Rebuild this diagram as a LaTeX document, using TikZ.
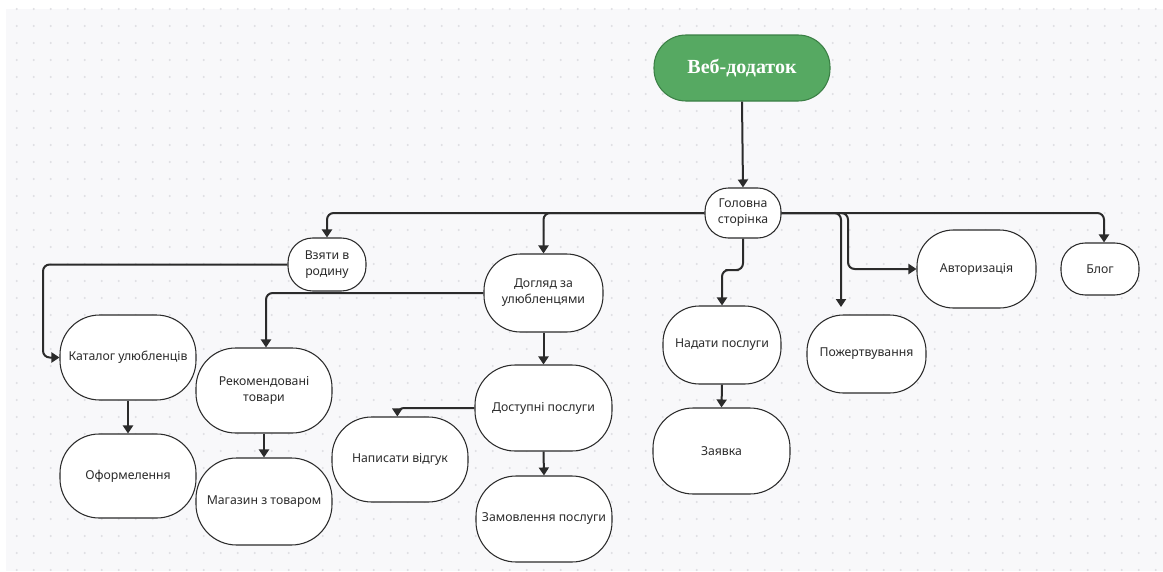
\documentclass[tikz,border=0pt]{standalone}
\usepackage{fontspec}
\setmainfont{Noto Sans}
\newfontfamily\titlefont{Liberation Serif}
\usetikzlibrary{arrows.meta}

\definecolor{canvas}{HTML}{F8F8FA}
\definecolor{gridDot}{HTML}{DEDEE2}
\definecolor{ink}{HTML}{2B2B2B}
\definecolor{leaf}{HTML}{56A962}
\definecolor{leafEdge}{HTML}{3B7F45}

\begin{document}
\begin{tikzpicture}[x=0.75pt,y=-0.75pt,
  box/.style 2 args={draw=ink, line width=0.8pt, fill=white,
    minimum width=#1*0.75pt, minimum height=#2*0.75pt,
    rounded corners=#2*0.35pt, align=center, inner sep=2pt,
    font=\fontsize{9.2}{12}\selectfont, text=ink},
  link/.style={draw=ink, line width=1.5pt, rounded corners=5pt,
    -{Triangle[width=7.5pt,length=6pt]}}]

% canvas with dotted grid
\useasboundingbox (0,0) rectangle (1163,571);
\fill[white] (0,0) rectangle (1163,571);
\fill[canvas] (6,9) rectangle (1163,571);
\foreach \i in {0,...,67}
  \foreach \j in {0,...,33}
    \fill[gridDot] (16.7+17*\i, 9+17*\j) circle (0.85pt);

% nodes
\node[box={176}{66}, fill=leaf, draw=leafEdge, text=white, rounded corners=24pt,
  font=\titlefont\bfseries\fontsize{15}{18}\selectfont] (web) at (742,68) {Веб-додаток};
\node[box={76}{50}]   (home)    at (743,213)   {Головна\\сторінка};
\node[box={78}{53}]   (take)    at (327,264.5) {Взяти в\\родину};
\node[box={119}{78}]  (care)    at (543.5,293) {Догляд за\\улюбленцями};
\node[box={136}{85}]  (cat)     at (128,357.5) {Каталог улюбленців};
\node[box={136}{85}]  (rec)     at (264,390.5) {Рекомендовані\\товари};
\node[box={136}{84}]  (form)    at (128,476)   {Оформелення};
\node[box={136}{87}]  (shop)    at (264,501.5) {Магазин з товаром};
\node[box={136}{85}]  (review)  at (400,459.5) {Написати відгук};
\node[box={137}{86}]  (avail)   at (543.5,408) {Доступні послуги};
\node[box={136}{86}]  (order)   at (544,519)   {Замовлення послуги};
\node[box={118}{78}]  (provide) at (722,345)   {Надати послуги};
\node[box={137}{86}]  (request) at (721.5,451) {Заявка};
\node[box={119}{78}]  (donate)  at (866.5,354) {Пожертвування};
\node[box={119}{78}]  (auth)    at (976.5,269) {Авторизація};
\node[box={78}{52}]   (blog)    at (1100,269)  {Блог};

% bend points and free ends
\coordinate (tl) at (43,300);
\coordinate (hp) at (732,270);
\coordinate (dn) at (841,307);
\coordinate (ab) at (848,269);

% connectors
\draw[link] (web.south) -- (home.north);
\draw[link] (home.west) -| (take.north);
\draw[link] (home.west) -| (care.north);
\draw[link] (home.south) |- (hp) -| (provide.north);
\draw[link] (home.east) -| (dn);
\draw[link] (home.east) -| (ab) -- (auth.west);
\draw[link] (home.east) -| ([xshift=3pt]blog.north);
\draw[link] (take.west) -| (tl) |- (cat.west);
\draw[link] (care.west) -| ([xshift=1.5pt]rec.north);
\draw[link] (care.south) -- (avail.north);
\draw[link] (cat.south) -- (form.north);
\draw[link] (rec.south) -- (shop.north);
\draw[link] (avail.west) -| ([xshift=-2pt]review.north);
\draw[link] (avail.south) -- (order.north);
\draw[link] (provide.south) -- (request.north);
\end{tikzpicture}
\end{document}
